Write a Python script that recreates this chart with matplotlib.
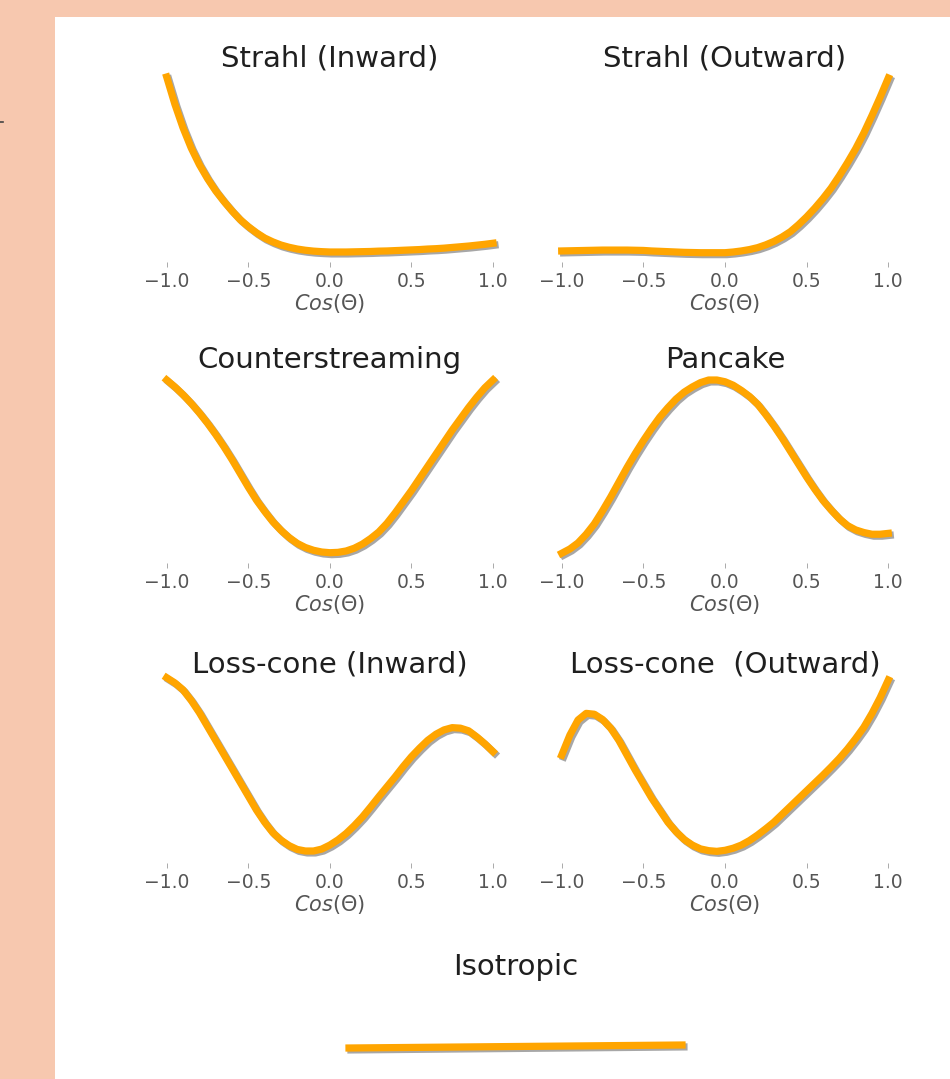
import matplotlib
matplotlib.use("Agg")
import matplotlib.pyplot as plt
import matplotlib.patheffects as pe
from matplotlib.patches import Rectangle
from matplotlib.lines import Line2D

# ---------------- data ----------------
cos_theta = [-1.00, -0.95, -0.90, -0.85, -0.80, -0.75, -0.70, -0.65, -0.60, -0.55,
             -0.50, -0.45, -0.40, -0.35, -0.30, -0.25, -0.20, -0.15, -0.10, -0.05,
             0.00, 0.05, 0.10, 0.15, 0.20, 0.25, 0.30, 0.35, 0.40, 0.45,
             0.50, 0.55, 0.60, 0.65, 0.70, 0.75, 0.80, 0.85, 0.90, 0.95, 1.00]

strahl_inward = [1.00, 0.845, 0.71, 0.595, 0.50, 0.42, 0.35, 0.29, 0.235, 0.185,
                 0.145, 0.11, 0.08, 0.058, 0.04, 0.027, 0.017, 0.010, 0.005, 0.002,
                 0.0, 0.0, 0.0, 0.001, 0.002, 0.003, 0.005, 0.006, 0.008, 0.010,
                 0.012, 0.014, 0.017, 0.019, 0.022, 0.026, 0.030, 0.034, 0.039, 0.044, 0.050]
strahl_outward = [0.010, 0.011, 0.012, 0.013, 0.014, 0.015, 0.015, 0.015, 0.015, 0.014,
                  0.013, 0.010, 0.008, 0.006, 0.004, 0.002, 0.001, 0.0, 0.0, 0.0,
                  0.0, 0.004, 0.010, 0.018, 0.029, 0.045, 0.065, 0.09, 0.12, 0.16,
                  0.205, 0.255, 0.31, 0.37, 0.44, 0.515, 0.595, 0.685, 0.785, 0.89, 1.00]
counterstreaming = [1.00, 0.96, 0.915, 0.865, 0.81, 0.75, 0.685, 0.615, 0.54, 0.46,
                    0.38, 0.305, 0.24, 0.18, 0.13, 0.088, 0.054, 0.03, 0.014, 0.004,
                    0.0, 0.002, 0.010, 0.026, 0.050, 0.082, 0.12, 0.17, 0.23, 0.295,
                    0.36, 0.43, 0.50, 0.57, 0.64, 0.71, 0.775, 0.84, 0.90, 0.955, 1.00]
pancake = [0.0, 0.025, 0.06, 0.11, 0.17, 0.245, 0.325, 0.41, 0.495, 0.575,
           0.65, 0.72, 0.785, 0.84, 0.89, 0.93, 0.96, 0.985, 1.00, 1.00,
           0.99, 0.97, 0.94, 0.905, 0.86, 0.80, 0.735, 0.665, 0.59, 0.515,
           0.44, 0.37, 0.305, 0.25, 0.20, 0.16, 0.135, 0.12, 0.11, 0.11, 0.115]
losscone_inward = [1.00, 0.97, 0.93, 0.87, 0.80, 0.72, 0.64, 0.56, 0.48, 0.40,
                   0.32, 0.24, 0.17, 0.11, 0.067, 0.035, 0.013, 0.004, 0.004, 0.015,
                   0.038, 0.068, 0.105, 0.15, 0.20, 0.257, 0.316, 0.373, 0.43, 0.49,
                   0.546, 0.595, 0.64, 0.675, 0.70, 0.713, 0.71, 0.695, 0.66, 0.62, 0.575]
losscone_outward = [0.555, 0.67, 0.757, 0.795, 0.79, 0.76, 0.71, 0.64, 0.555, 0.47,
                    0.39, 0.31, 0.24, 0.17, 0.115, 0.07, 0.038, 0.016, 0.006, 0.002,
                    0.008, 0.02, 0.038, 0.064, 0.096, 0.132, 0.17, 0.215, 0.26, 0.305,
                    0.35, 0.395, 0.44, 0.487, 0.536, 0.59, 0.65, 0.715, 0.795, 0.885, 0.987]
iso_x = [-1.0, 1.0]
isotropic = [0.500, 0.530]

titles = ["Strahl (Inward)", "Strahl (Outward)", "Counterstreaming", "Pancake",
          "Loss-cone (Inward)", "Loss-cone  (Outward)"]
series = [strahl_inward, strahl_outward, counterstreaming, pancake,
          losscone_inward, losscone_outward]
tick_values = [-1.0, -0.5, 0.0, 0.5, 1.0]
tick_labels = ["\u22121.0", "\u22120.5", "0.0", "0.5", "1.0"]
xlabel = r"$Cos(\Theta)$"

# ---------------- layout (pixels) ----------------
W, H = 950, 1079
fig = plt.figure(figsize=(W / 100, H / 100), dpi=100)
fig.patch.set_facecolor("#F7C8AF")
fig.patches.append(Rectangle((55 / W, 0), (W - 55) / W, (H - 17) / H,
                             transform=fig.transFigure, facecolor="white",
                             edgecolor="none", zorder=-10))
fig.lines.append(Line2D([0, 3 / W], [1 - 122 / H, 1 - 122 / H], transform=fig.transFigure,
                        color="#444444", lw=1.2, zorder=-5))

ORANGE = "#FFA500"
TITLE_C = "#1f1f1f"
LABEL_C = "#555555"

# per panel: x px of -1, x px of +1, px of y=0, px of y=1, axes bottom px, axes top px, title baseline px
panels = [
    (166.7, 493.0, 252.0, 77.0, 262, 60, 66),
    (561.7, 888.3, 252.7, 78.0, 262, 60, 66),
    (166.7, 493.0, 552.7, 380.0, 563, 360, 368),
    (561.7, 888.3, 553.3, 380.0, 563, 360, 368),
    (166.7, 493.0, 851.7, 677.7, 863, 660, 672),
    (561.7, 888.3, 851.7, 677.7, 863, 660, 672),
]

shadow = [pe.SimpleLineShadow(offset=(1.4, -1.4), shadow_color="#8a8a8a", alpha=0.75),
          pe.Normal()]


def make_axes(xm1, xp1, y0, y1, bot, top):
    ppu = (xp1 - xm1) / 2.0
    left = xm1 - 0.1 * ppu
    right = xp1 + 0.1 * ppu
    ax = fig.add_axes([left / W, 1 - bot / H, (right - left) / W, (bot - top) / H])
    ax.set_xlim(-1.1, 1.1)
    ypu = y0 - y1
    ax.set_ylim(-(bot - y0) / ypu, 1 + (y1 - top) / ypu)
    ax.set_facecolor("none")
    ax.patch.set_alpha(0)
    for s in ax.spines.values():
        s.set_visible(False)
    return ax


for (xm1, xp1, y0, y1, bot, top, tb), title, vals in zip(panels, titles, series):
    ax = make_axes(xm1, xp1, y0, y1, bot, top)
    ax.plot(cos_theta, vals, color=ORANGE, lw=5.2, clip_on=False,
            solid_joinstyle="round", path_effects=shadow)
    ax.set_xticks(tick_values)
    ax.set_xticklabels(tick_labels)
    ax.set_yticks([])
    ax.tick_params(axis="x", direction="out", length=3.5, width=0.7, color="#aaaaaa",
                   labelsize=13.5, labelcolor=LABEL_C, pad=3.5)
    ax.set_xlabel(xlabel, fontsize=15, color=LABEL_C, labelpad=1)
    cx = (xm1 + xp1) / 2.0
    fig.text(cx / W, 1 - tb / H, title, ha="center", va="baseline",
             fontsize=21, color=TITLE_C)

# isotropic panel
ax = make_axes(349.0, 682.0, 1098.0, 998.0, 1098, 998)
ax.set_ylim(0, 1)
ax.plot(iso_x, isotropic, color=ORANGE, lw=5.2, clip_on=False, path_effects=shadow)
ax.set_xticks([])
ax.set_yticks([])
fig.text(515.5 / W, 1 - 975 / H, "Isotropic", ha="center", va="baseline",
         fontsize=21, color=TITLE_C)

fig.savefig("out.png", dpi=100, facecolor=fig.get_facecolor())
